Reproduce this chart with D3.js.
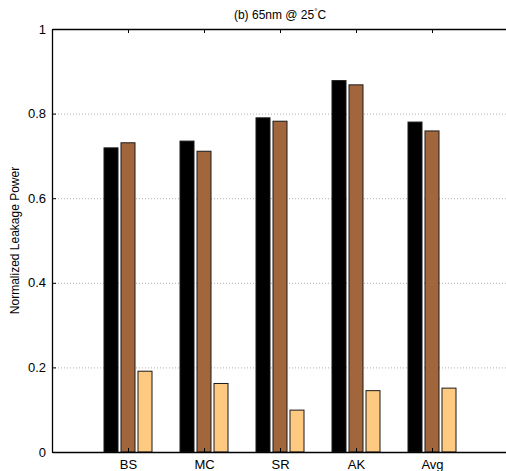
<!DOCTYPE html>
<html>
<head>
<meta charset="utf-8">
<script src="https://cdn.jsdelivr.net/npm/d3@7"></script>
<style>
  body { margin: 0; background: #fff; }
  svg { display: block; font-family: "Liberation Sans", Arial, sans-serif; }
</style>
</head>
<body>
<div id="chart"></div>
<script>
var categories = ["BS", "MC", "SR", "AK", "Avg"];
var seriesA = [0.719, 0.735, 0.790, 0.878, 0.780];
var seriesB = [0.731, 0.711, 0.782, 0.868, 0.759];
var seriesC = [0.191, 0.162, 0.099, 0.145, 0.151];
var yTicks = [0, 0.2, 0.4, 0.6, 0.8, 1];
var colors = ["#000000", "#a2663d", "#fec981"];

var width = 506, height = 471;
var margin = {top: 29, right: -2, bottom: 19, left: 52};

var svg = d3.select("#chart").append("svg")
    .attr("width", width).attr("height", height);

var x = d3.scaleLinear().domain([0, categories.length + 1])
    .range([margin.left, width - margin.right]);
var y = d3.scaleLinear().domain([0, 1])
    .range([height - margin.bottom, margin.top]);

// grid
svg.append("g").attr("class", "grid")
    .attr("transform", "translate(" + margin.left + ",0)")
    .call(d3.axisLeft(y).tickValues([0.2, 0.4, 0.6, 0.8]).tickSize(-(width - margin.left)).tickFormat(""))
    .call(function(g) {
        g.select(".domain").remove();
        g.selectAll("line").attr("stroke", "#b0b0b0").attr("stroke-dasharray", "1,2");
    });

// bars
var series = [seriesA, seriesB, seriesC];
var barW = 14, step = 17;
series.forEach(function(vals, si) {
    svg.append("g").selectAll("rect").data(vals).enter().append("rect")
        .attr("x", function(d, i) { return x(i + 1) + (si - 1) * step - barW / 2; })
        .attr("y", function(d) { return y(d); })
        .attr("width", barW)
        .attr("height", function(d) { return y(0) - y(d); })
        .attr("fill", colors[si])
        .attr("stroke", "#1a1a1a")
        .attr("stroke-width", 1);
});

// axes
var xTickVals = d3.range(1, categories.length + 1);
svg.append("g").attr("transform", "translate(0," + y(0) + ")")
    .call(d3.axisBottom(x).tickValues(xTickVals).tickSizeInner(-4).tickSizeOuter(0)
        .tickFormat(function(d) { return categories[d - 1]; }))
    .call(function(g) {
        g.select(".domain").attr("stroke", "#000").attr("stroke-width", 1.3);
        g.selectAll("text").attr("y", 8).attr("dy", "0.71em")
            .attr("font-size", 13).attr("fill", "#000").attr("font-family", "Liberation Sans, Arial, sans-serif");
    });

svg.append("g").attr("transform", "translate(0," + y(1) + ")")
    .call(d3.axisTop(x).tickValues(xTickVals).tickSizeInner(-4).tickSizeOuter(0).tickFormat(""))
    .call(function(g) {
        g.select(".domain").attr("stroke", "#000").attr("stroke-width", 1.3);
    });

svg.append("g").attr("transform", "translate(" + margin.left + ",0)")
    .call(d3.axisLeft(y).tickValues(yTicks).tickSizeInner(-4).tickSizeOuter(0)
        .tickFormat(function(d) { return d === 0 || d === 1 ? d : d.toFixed(1); }))
    .call(function(g) {
        g.select(".domain").attr("stroke", "#000").attr("stroke-width", 1.3);
        g.selectAll("text").attr("x", -6)
            .attr("font-size", 13).attr("fill", "#000").attr("font-family", "Liberation Sans, Arial, sans-serif");
    });

// title
var title = svg.append("text")
    .attr("x", (x(0) + x(categories.length + 1)) / 2).attr("y", 19)
    .attr("text-anchor", "middle").attr("font-size", 12).attr("fill", "#000");
title.append("tspan").text("(b) 65nm @ 25");
title.append("tspan").attr("font-size", 8).attr("dy", "-5").text("°");
title.append("tspan").attr("dy", "5").text("C");

// y label
svg.append("text")
    .attr("transform", "translate(19," + ((y(0) + y(1)) / 2) + ") rotate(-90)")
    .attr("text-anchor", "middle").attr("font-size", 12).attr("fill", "#000")
    .text("Normalized Leakage Power");
</script>
</body>
</html>
